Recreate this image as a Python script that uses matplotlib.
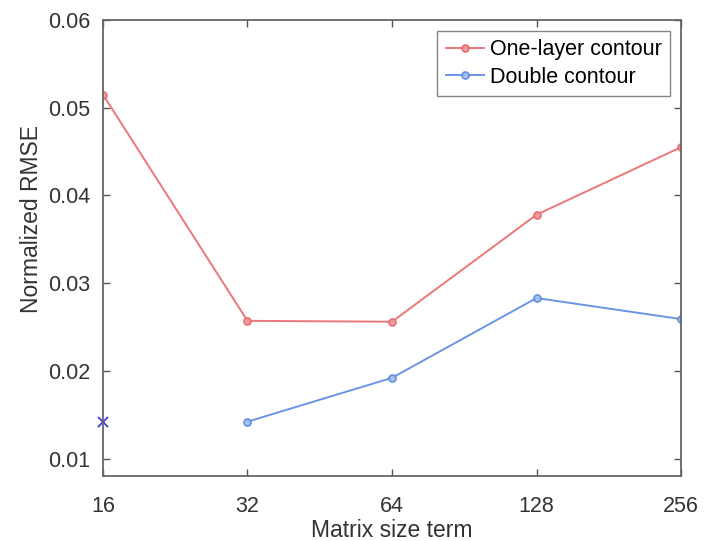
import matplotlib
matplotlib.use("Agg")
import matplotlib.pyplot as plt
from matplotlib.ticker import FixedLocator, NullLocator

plt.rcParams['font.family'] = ['Liberation Sans', 'DejaVu Sans']

matrix_size = [16, 32, 64, 128, 256]
one_layer = [0.0515, 0.0257, 0.0256, 0.0378, 0.0455]
double_size = [32, 64, 128, 256]
double = [0.0142, 0.0192, 0.0283, 0.0259]
extra_x = [16]
extra_y = [0.0142]

fig = plt.figure(figsize=(7.05, 5.41), dpi=100)
ax = fig.add_axes([0.146, 0.12, 0.82, 0.843])

ax.plot(matrix_size, one_layer, '-o', color='#e8686a', linewidth=1.4,
        markersize=5, markerfacecolor='#ef9a9b', markeredgewidth=1.3, alpha=0.9,
        label='One-layer contour')
ax.plot(double_size, double, '-o', color='#5a8ae2', linewidth=1.4,
        markersize=5, markerfacecolor='#a9c2f0', markeredgewidth=1.3, alpha=0.9,
        label='Double contour')
ax.plot(extra_x, extra_y, 'x', color='#3b3be0', markersize=7, markeredgewidth=1.3,
        clip_on=False)

ax.set_xscale('log', base=2)
ax.set_xlim(16, 256)
ax.set_ylim(0.008, 0.06)
ax.xaxis.set_major_locator(FixedLocator(matrix_size))
ax.xaxis.set_minor_locator(NullLocator())
ax.set_xticklabels([str(v) for v in matrix_size])
ax.set_yticks([0.01, 0.02, 0.03, 0.04, 0.05, 0.06])
ax.set_yticklabels(['0.01', '0.02', '0.03', '0.04', '0.05', '0.06'])

ax.tick_params(direction='in', top=True, right=True, length=5, width=1,
               color='#555555', labelcolor='#333333', labelsize=15.5)
ax.tick_params(axis='x', pad=14)
ax.tick_params(axis='y', pad=9)
for s in ax.spines.values():
    s.set_color('#666666')
    s.set_linewidth(1.3)

ax.set_xlabel('Matrix size term', fontsize=16.5, color='#333333', labelpad=2)
ax.set_ylabel('Normalized RMSE', fontsize=16.5, color='#333333')
ax.yaxis.set_label_coords(-0.103, 0.564)

leg = ax.legend(loc='upper right', fontsize=15.5, fancybox=False, edgecolor='#666666',
                borderaxespad=0.5, borderpad=0.4, handlelength=1.8,
                handletextpad=0.25, labelspacing=0.3)
leg.get_frame().set_linewidth(1.0)

fig.savefig('out.png', dpi=100)
